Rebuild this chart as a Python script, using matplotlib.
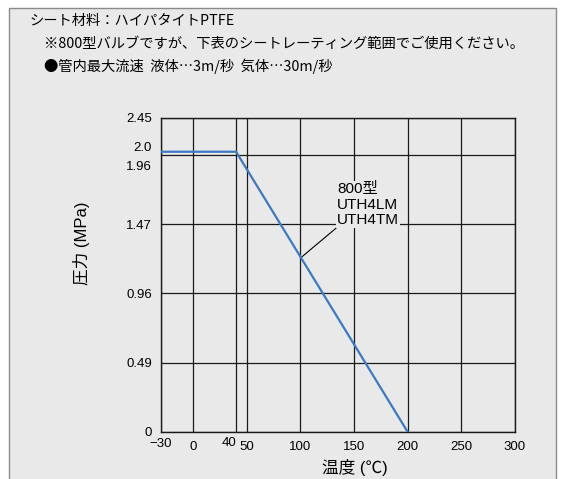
import numpy as np
import matplotlib
matplotlib.use('Agg')
import matplotlib.pyplot as plt
import matplotlib.transforms as mtransforms
from matplotlib.patches import Rectangle

plt.rcParams['font.family'] = ['Liberation Sans', 'Noto Sans CJK JP', 'DejaVu Sans']

# data
temp = [-30, 40, 200]
pressure = [2.0, 2.0, 0.0]
xticks = [-30, 0, 40, 50, 100, 150, 200, 250, 300]
xtick_labels = ['\u221230', '0', '40', '50', '100', '150', '200', '250', '300']
yticks = [0, 0.49, 0.96, 1.47, 1.96, 2.0, 2.45]
ytick_labels = ['0', '0.49', '0.96', '1.47', '1.96', '2.0', '2.45']
grid_vals = [0, 0.49, 0.96, 1.47, 1.96, 2.45]
grid_pos = [0, 1, 2, 3, 4, 4.53]
header = ['シート材料：ハイパタイトPTFE',
          '※800型バルブですが、下表のシートレーティング範囲でご使用ください。',
          '●管内最大流速  液体…3m/秒  気体…30m/秒']
series_label = '800型\nUTH4LM\nUTH4TM'
bg = '#e9e9e9'
blue = '#3c78c4'
jp = ['Noto Sans CJK JP', 'DejaVu Sans']


def fwd(y):
    return np.interp(y, grid_vals, grid_pos)


def inv(y):
    return np.interp(y, grid_pos, grid_vals)


fig = plt.figure(figsize=(5.68, 4.79), dpi=100)
fig.patch.set_facecolor('white')
fig.patches.append(Rectangle((9 / 568, -0.01), (556 - 9) / 568, 1 - 8 / 479 + 0.01,
                             transform=fig.transFigure, facecolor=bg,
                             edgecolor='#8a8a8a', lw=1.0, zorder=-5))

fig.text(29 / 568, 1 - 21 / 479, header[0], fontsize=10.3, va='center', ha='left', family=jp)
fig.text(44 / 568, 1 - 44 / 479, header[1], fontsize=10.3, va='center', ha='left', family=jp)
fig.text(44 / 568, 1 - 66 / 479, header[2], fontsize=10.3, va='center', ha='left', family=jp)

ax = fig.add_axes([161 / 568, (479 - 432) / 479, (515 - 161) / 568, (432 - 118) / 479])
ax.set_facecolor(bg)
ax.set_yscale('function', functions=(fwd, inv))
ax.set_xlim(-30, 300)
ax.set_ylim(0, 2.45)

ax.set_xticks(xticks, xtick_labels, fontsize=9.5)
ax.set_yticks(yticks, ytick_labels, fontsize=9.5)
ax.tick_params(length=0)
ax.tick_params(axis='x', pad=6.5)
ax.tick_params(axis='y', pad=6.5)
ax.grid(True, color='#1a1a1a', lw=0.9)
ax.set_axisbelow(True)
for sp in ax.spines.values():
    sp.set_color('#1a1a1a')
    sp.set_linewidth(1.0)

# no gridline for the 2.0 label
ax.yaxis.get_major_ticks()[yticks.index(2.0)].gridline.set_visible(False)

# nudge crowded labels
def nudge(lbl, dx, dy):
    lbl.set_transform(lbl.get_transform() + mtransforms.ScaledTranslation(dx / 72, dy / 72, fig.dpi_scale_trans))

ylbls = ax.get_yticklabels()
nudge(ylbls[yticks.index(2.0)], 0, 4)
nudge(ylbls[yticks.index(1.96)], 0, -8)
xlbls = ax.get_xticklabels()
nudge(xlbls[0], 0, 2)
xlbls[xticks.index(40)].set_ha('right')
nudge(xlbls[xticks.index(40)], 0, 3)

ax.plot(temp, pressure, color=blue, lw=1.6, zorder=3)

ax.annotate(series_label, xy=(101.5, 1.23), xytext=(134, 1.445),
            fontsize=11, ha='left', va='bottom', linespacing=1.15,
            bbox=dict(boxstyle='square,pad=0.05', fc=bg, ec='none'),
            arrowprops=dict(arrowstyle='-', color='black', lw=0.8,
                            shrinkA=0, shrinkB=0, relpos=(0, 0)),
            zorder=4)

ax.set_xlabel('温度 (℃)', fontsize=12)
ax.xaxis.set_label_coords(0.548, -0.085)
ax.set_ylabel('圧力 (MPa)', fontsize=12)
ax.yaxis.set_label_coords(-0.20, 0.60)

fig.savefig('out.png', dpi=100, facecolor='white')
